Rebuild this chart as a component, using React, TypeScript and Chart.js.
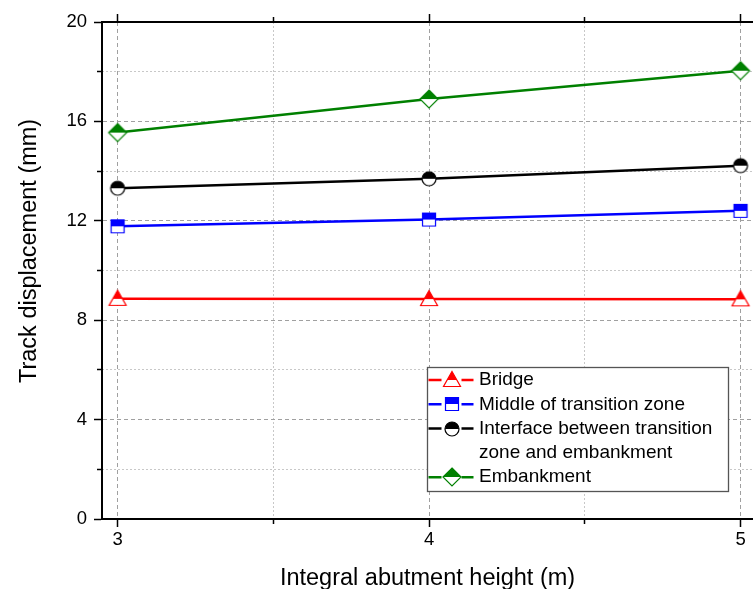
import React, { useEffect, useRef } from 'react';
import { Chart, registerables } from 'chart.js';

Chart.register(...registerables);

// ---- data ----
const heights = [3, 4, 5];
const bridge = [8.86, 8.85, 8.84];
const middleZone = [11.78, 12.05, 12.4];
const interfaceZone = [13.31, 13.69, 14.22];
const embankment = [15.55, 16.9, 18.04];

const seriesNames = [
  'Bridge',
  'Middle of transition zone',
  'Interface between transition zone and embankment',
  'Embankment',
];
const seriesColors = ['#ff0000', '#0000ff', '#000000', '#008000'];
const seriesShapes = ['triangle', 'square', 'circle', 'diamond'];

const xMajorTicks = [3, 4, 5];
const xMinorTicks = [3.5, 4.5];
const yMajorTicks = [0, 4, 8, 12, 16, 20];
const yMinorTicks = [2, 6, 10, 14, 18];

const xTitle = 'Integral abutment height (m)';
const yTitle = 'Track displacement (mm)';

const FONT = '"Liberation Sans", Arial, Helvetica, sans-serif';

function makeMarker(shape: string, color: string): HTMLCanvasElement {
  const s = 22;
  const m = s / 2;
  const c = document.createElement('canvas');
  c.width = s;
  c.height = s;
  const g = c.getContext('2d')!;
  const p = new Path2D();
  if (shape === 'triangle') {
    p.moveTo(m, m - 8.5);
    p.lineTo(m + 8.5, m + 6.5);
    p.lineTo(m - 8.5, m + 6.5);
    p.closePath();
  } else if (shape === 'square') {
    p.rect(m - 6.5, m - 6.5, 13, 13);
  } else if (shape === 'circle') {
    p.arc(m, m, 7, 0, Math.PI * 2);
  } else {
    p.moveTo(m, m - 9);
    p.lineTo(m + 9, m);
    p.lineTo(m, m + 9);
    p.lineTo(m - 9, m);
    p.closePath();
  }
  g.fillStyle = '#ffffff';
  g.fill(p);
  g.save();
  g.beginPath();
  g.rect(0, 0, s, m);
  g.clip();
  g.fillStyle = color;
  g.fill(p);
  g.restore();
  g.strokeStyle = color;
  g.lineWidth = 1.2;
  g.stroke(p);
  return c;
}

function wrapText(ctx: CanvasRenderingContext2D, text: string, maxW: number): string[] {
  const words = text.split(' ');
  const lines: string[] = [];
  let cur = '';
  for (const w of words) {
    const t = cur ? cur + ' ' + w : w;
    if (cur && ctx.measureText(t).width > maxW) {
      lines.push(cur);
      cur = w;
    } else {
      cur = t;
    }
  }
  if (cur) lines.push(cur);
  return lines;
}

const legendPlugin = {
  id: 'insideLegend',
  afterDraw(chart: any) {
    const ctx: CanvasRenderingContext2D = chart.ctx;
    const bx = 427.5, by = 367.5, bw = 301, bh = 124;
    ctx.save();
    ctx.fillStyle = '#ffffff';
    ctx.fillRect(bx, by, bw, bh);
    ctx.strokeStyle = '#555555';
    ctx.lineWidth = 1.3;
    ctx.strokeRect(bx, by, bw, bh);
    ctx.font = `19px ${FONT}`;
    ctx.textBaseline = 'middle';
    ctx.textAlign = 'left';
    let y = by + 12.5;
    const gap = 24.3;
    const cx = bx + 24;
    chart.data.datasets.forEach((ds: any) => {
      const lines = wrapText(ctx, ds.label, 250);
      ctx.strokeStyle = ds.borderColor;
      ctx.lineWidth = 2.5;
      ctx.beginPath();
      ctx.moveTo(bx + 1, y);
      ctx.lineTo(cx - 10, y);
      ctx.moveTo(cx + 10, y);
      ctx.lineTo(bx + 46, y);
      ctx.stroke();
      const img = ds.pointStyle as HTMLCanvasElement;
      ctx.drawImage(img, Math.round(cx - img.width / 2), Math.round(y - img.height / 2));
      ctx.fillStyle = '#000000';
      lines.forEach((ln, k) => ctx.fillText(ln, bx + 51.5, y + k * gap));
      y += lines.length * gap;
    });
    ctx.restore();
  },
};

export default function App() {
  const ref = useRef<HTMLCanvasElement | null>(null);

  useEffect(() => {
    if (!ref.current) return;
    const seriesValues = [bridge, middleZone, interfaceZone, embankment];
    const datasets = seriesValues.map((vals, i) => ({
      label: seriesNames[i],
      data: heights.map((x, j) => ({ x, y: vals[j] })),
      borderColor: seriesColors[i],
      backgroundColor: seriesColors[i],
      borderWidth: 2.5,
      pointStyle: makeMarker(seriesShapes[i], seriesColors[i]),
      pointRadius: 8,
      pointHoverRadius: 8,
      tension: 0,
    }));

    const xMin = 2.95, xMax = 5.04;
    const setTicks = (arr: number[]) => (s: any) => {
      s.ticks = arr.map((v) => ({ value: v }));
    };

    const chart = new Chart(ref.current, {
      type: 'line',
      data: { datasets },
      plugins: [legendPlugin],
      options: {
        responsive: false,
        animation: false,
        events: [],
        layout: { padding: 0, autoPadding: false },
        plugins: { legend: { display: false }, tooltip: { enabled: false } },
        scales: {
          x: {
            type: 'linear',
            position: 'bottom',
            min: xMin,
            max: xMax,
            weight: 0,
            afterBuildTicks: setTicks(xMajorTicks),
            afterFit: (s: any) => { s.height = 81; },
            ticks: {
              color: '#000',
              font: { size: 18.5, family: FONT },
              padding: 2,
              maxRotation: 0,
              autoSkip: false,
              callback: (v: any) => String(v),
            },
            grid: { color: '#a0a0a0', lineWidth: 1, tickColor: '#000', tickLength: 8, tickWidth: 1.5, z: -1 },
            border: { color: '#000', width: 2, dash: [4, 3] },
            title: {
              display: true,
              text: xTitle,
              color: '#000',
              font: { size: 23.5, family: FONT },
              padding: { top: 0, bottom: 7 },
            },
          },
          xMinor: {
            type: 'linear',
            position: 'bottom',
            min: xMin,
            max: xMax,
            weight: -10,
            afterBuildTicks: setTicks(xMinorTicks),
            afterFit: (s: any) => { s.height = 0; },
            ticks: { display: false },
            grid: { color: '#c8c8c8', lineWidth: 1, tickColor: '#000', tickLength: 5, tickWidth: 1.5, z: -1 },
            border: { display: false, dash: [2, 2] },
          },
          xTop: {
            type: 'linear',
            position: 'top',
            min: xMin,
            max: xMax,
            weight: 0,
            afterBuildTicks: setTicks(xMajorTicks),
            afterFit: (s: any) => { s.height = 22; },
            ticks: { display: false },
            grid: { drawOnChartArea: false, tickColor: '#000', tickLength: 8, tickWidth: 1.5, z: -1 },
            border: { color: '#000', width: 2 },
          },
          xTopMinor: {
            type: 'linear',
            position: 'top',
            min: xMin,
            max: xMax,
            weight: -10,
            afterBuildTicks: setTicks(xMinorTicks),
            afterFit: (s: any) => { s.height = 0; },
            ticks: { display: false },
            grid: { drawOnChartArea: false, tickColor: '#000', tickLength: 5, tickWidth: 1.5, z: -1 },
            border: { display: false },
          },
          y: {
            type: 'linear',
            position: 'left',
            min: 0,
            max: 20,
            weight: 0,
            afterBuildTicks: setTicks(yMajorTicks),
            afterFit: (s: any) => { s.width = 102; },
            ticks: {
              color: '#000',
              font: { size: 18.5, family: FONT },
              padding: 7,
              autoSkip: false,
              callback: (v: any) => String(v),
            },
            grid: { color: '#a0a0a0', lineWidth: 1, tickColor: '#000', tickLength: 8, tickWidth: 1.5, z: -1 },
            border: { color: '#000', width: 2, dash: [4, 3] },
            title: {
              display: true,
              text: '      ' + yTitle,
              color: '#000',
              font: { size: 23.5, family: FONT },
              padding: { top: 15, bottom: 0 },
            },
          },
          yMinor: {
            type: 'linear',
            position: 'left',
            min: 0,
            max: 20,
            weight: -10,
            afterBuildTicks: setTicks(yMinorTicks),
            afterFit: (s: any) => { s.width = 0; },
            ticks: { display: false },
            grid: { color: '#c8c8c8', lineWidth: 1, tickColor: '#000', tickLength: 5, tickWidth: 1.5, z: -1 },
            border: { display: false, dash: [2, 2] },
          },
        },
      } as any,
    });
    return () => chart.destroy();
  }, []);

  return (
    <div style={{ position: 'absolute', left: 0, top: 0, width: 753, height: 589, overflow: 'hidden', background: '#fff' }}>
      <canvas ref={ref} width={753} height={600} style={{ display: 'block' }} />
    </div>
  );
}
